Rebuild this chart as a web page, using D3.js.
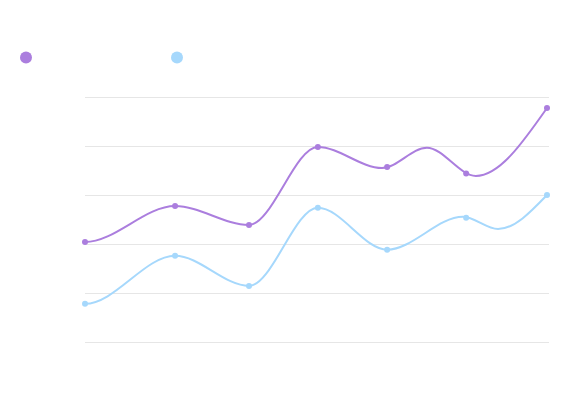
<!DOCTYPE html>
<html>
<head>
<meta charset="utf-8">
<script src="https://cdn.jsdelivr.net/npm/d3@7"></script>
<style>
  body { margin: 0; background: #fff; }
  svg { display: block; font-family: "Open Sans", sans-serif; }
</style>
</head>
<body>
<svg id="chart" width="573" height="398"></svg>
<script>
var width = 573, height = 398;

// marker positions (uneven spacing), x on a 0..100 scale
var markerX = [0, 19.5, 35.5, 50.4, 65.4, 82.5, 100];
var purpleMarks = [40.8, 55.5, 47.8, 79.6, 71.4, 68.8, 95.5];
var blueMarks = [15.6, 35.2, 22.9, 54.8, 37.7, 50.7, 60.0];

// the lines pass through extra turning points between markers
var purpleLineX = [0, 19.5, 35.5, 50.4, 64.3, 74.0, 84.6, 100];
var purpleLine = [40.8, 55.5, 47.8, 79.6, 71.0, 79.3, 67.8, 95.5];
var blueLineX = [0, 19.5, 35.5, 50.4, 65.4, 81.8, 89.4, 100];
var blueLine = [15.6, 35.2, 22.9, 54.8, 37.7, 51.1, 46.1, 60.0];

var yTicks = [0, 20, 40, 60, 80, 100];
var colors = ["#ab7ede", "#a6d8fc"];

var svg = d3.select("#chart");

var x = d3.scaleLinear().domain([0, 100]).range([85, 547]);
var y = d3.scaleLinear().domain([0, 100]).range([342, 97]);

svg.append("clipPath")
  .attr("id", "plotClip")
  .append("rect")
  .attr("x", 84).attr("y", 0)
  .attr("width", width - 84).attr("height", height);

// grid
svg.append("g")
  .selectAll("line")
  .data(yTicks)
  .enter()
  .append("line")
  .attr("x1", 85)
  .attr("x2", 549)
  .attr("y1", function(d){ return Math.round(y(d)) + 0.5; })
  .attr("y2", function(d){ return Math.round(y(d)) + 0.5; })
  .attr("stroke", "#e6e6e6")
  .attr("stroke-width", 1);

var line = d3.line()
  .x(function(d){ return d[0]; })
  .y(function(d){ return d[1]; })
  .curve(d3.curveMonotoneX);

var series = [
  { lx: purpleLineX, ly: purpleLine, my: purpleMarks, color: colors[0] },
  { lx: blueLineX, ly: blueLine, my: blueMarks, color: colors[1] }
];

series.slice().reverse().forEach(function(s){
  var pts = s.ly.map(function(v, i){ return [x(s.lx[i]), y(v)]; });
  // flat lead-in so the curve leaves the first point level (clipped away)
  pts.unshift([pts[0][0] - 30, pts[0][1]]);

  svg.append("path")
    .datum(pts)
    .attr("d", line)
    .attr("clip-path", "url(#plotClip)")
    .attr("fill", "none")
    .attr("stroke", s.color)
    .attr("stroke-width", 2);

  svg.append("g")
    .selectAll("circle")
    .data(s.my)
    .enter()
    .append("circle")
    .attr("cx", function(d, i){ return x(markerX[i]); })
    .attr("cy", function(d){ return y(d); })
    .attr("r", 3)
    .attr("fill", s.color);
});

// legend markers
svg.append("g")
  .selectAll("circle")
  .data(colors)
  .enter()
  .append("circle")
  .attr("cx", function(d, i){ return 26 + i * 151; })
  .attr("cy", 57.5)
  .attr("r", 6)
  .attr("fill", function(d){ return d; });
</script>
</body>
</html>
